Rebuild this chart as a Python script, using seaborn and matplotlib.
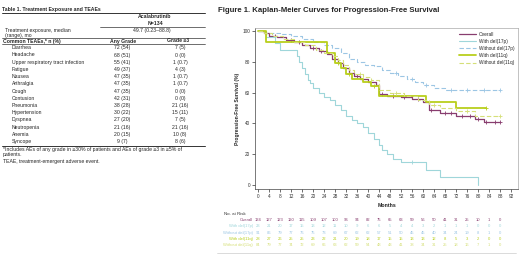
import numpy as np
import pandas as pd
import matplotlib
matplotlib.use("Agg")
import matplotlib.pyplot as plt
import matplotlib.transforms as mtransforms
from matplotlib.lines import Line2D
import seaborn as sns

# ---- Table 1 data ----
exposure_text = "49.7 (0.23\u201388.8)"
ae_names = ["Diarrhea", "Headache", "Upper respiratory tract infection", "Fatigue",
            "Nausea", "Arthralgia", "Cough", "Contusion", "Pneumonia",
            "Hypertension", "Dyspnea", "Neutropenia", "Anemia", "Syncope"]
any_n = [72, 68, 55, 49, 47, 47, 47, 42, 38, 30, 27, 21, 20, 9]
any_pct = [54, 51, 41, 37, 35, 35, 35, 31, 28, 22, 20, 16, 15, 7]
g3_n = [7, 0, 1, 4, 1, 1, 0, 0, 21, 15, 7, 21, 10, 8]
g3_pct = [5, 0, 0.7, 3, 0.7, 0.7, 0, 0, 16, 11, 5, 16, 8, 6]

# ---- Kaplan-Meier data (months, PFS %) ----
overall_t = [0, 2, 4, 7, 10, 13, 16, 19, 22, 25, 27, 29, 31, 33, 35, 37, 40, 43, 44, 47, 52, 56, 60, 62, 66, 72, 79, 82, 88]
overall_s = [100, 99, 97, 96, 94, 93, 91, 89, 87, 85, 82, 79, 76, 73, 71, 69, 67, 65, 59, 58, 57, 56, 54, 49, 47, 45, 43, 41, 41]
overall_cens = [3, 6, 12, 15, 20, 23, 28, 36, 45, 49, 53, 58, 63, 68, 70, 74, 77, 80, 83, 86, 88]

d17_t = [0, 3, 6, 8, 14, 15, 16, 17, 18, 19, 20, 22, 24, 26, 28, 30, 32, 34, 36, 38, 40, 42, 44, 45, 47, 49, 52, 61, 66, 80]
d17_s = [100, 96, 92, 88, 84, 80, 76, 72, 68, 66, 63, 60, 57, 55, 52, 49, 45, 42, 40, 38, 34, 30, 26, 23, 20, 17, 15, 10, 5, 0]
d17_cens = [56]

w17_t = [0, 3, 8, 12, 16, 20, 24, 27, 30, 33, 36, 39, 42, 45, 48, 51, 54, 57, 60, 64, 68, 88]
w17_s = [100, 99, 98, 97, 95, 93, 91, 89, 86, 82, 80, 78, 77, 75, 73, 71, 69, 67, 65, 63, 62, 62]
w17_cens = [50, 56, 61, 70, 76, 82, 88]

d11_t = [0, 3, 25, 28, 30, 32, 34, 38, 41, 44, 61, 72, 83]
d11_s = [100, 93, 86, 79, 76, 72, 69, 67, 64, 58, 54, 50, 50]
d11_cens = [29, 33, 42, 83]

w11_t = [0, 2, 5, 9, 13, 17, 21, 24, 27, 29, 31, 33, 35, 38, 41, 44, 48, 53, 58, 62, 66, 72, 79, 88]
w11_s = [100, 99, 97, 95, 93, 91, 88, 86, 84, 81, 78, 75, 72, 70, 68, 62, 60, 58, 55, 52, 50, 48, 45, 45]
w11_cens = [37, 50, 64, 76, 88]

# ---- Number at risk ----
risk_times = list(range(0, 92, 4))
risk_overall = [134, 127, 123, 120, 115, 109, 107, 100, 96, 94, 82, 75, 65, 63, 59, 56, 50, 41, 31, 25, 10, 1, 0]
risk_d17 = [23, 21, 20, 17, 15, 13, 12, 11, 10, 9, 6, 6, 5, 4, 4, 3, 2, 1, 1, 1, 0, 0, 0]
risk_w17 = [91, 86, 79, 77, 76, 75, 73, 69, 67, 62, 62, 57, 51, 50, 45, 45, 40, 34, 24, 19, 8, 1, 0]
risk_d11 = [28, 27, 26, 25, 25, 23, 22, 21, 20, 19, 18, 17, 15, 15, 13, 13, 12, 8, 5, 3, 2, 0, 0]
risk_w11 = [84, 79, 77, 74, 72, 69, 66, 63, 62, 59, 54, 48, 43, 41, 38, 34, 31, 25, 18, 16, 7, 1, 0]

c_overall = "#883d6f"
c_d17 = "#9fd6da"
c_w17 = "#9cc6e4"
c_d11 = "#b9cf1c"
c_w11 = "#d5df78"

sns.set_style("ticks")
plt.rcParams["font.family"] = ["Liberation Sans", "DejaVu Sans"]

W, H = 520, 256
fig = plt.figure(figsize=(W / 100, H / 100), dpi=100)


def fx(x):
    return x / W


def fy(y):
    return 1 - y / H


def hline(x0, x1, y, lw=0.6, color="#333333"):
    fig.add_artist(Line2D([fx(x0), fx(x1)], [fy(y), fy(y)], transform=fig.transFigure,
                          color=color, lw=lw))


# ---------------- Table ----------------
fs = 3.7
fig.text(fx(2), fy(10), "Table 1. Treatment Exposure and TEAEs", fontsize=fs, fontweight="bold",
         va="center", ha="left")
hline(2, 205, 13, lw=0.7)
fig.text(fx(155), fy(17), "Acalabrutinib", fontsize=fs, fontweight="bold", ha="center", va="center")
fig.text(fx(155), fy(23.5), "N=134", fontsize=fs, fontweight="bold", ha="center", va="center")
hline(100, 205, 27, lw=0.5)
fig.text(fx(5), fy(30.5), "Treatment exposure, median", fontsize=fs, va="center")
fig.text(fx(5), fy(35), "(range), mo", fontsize=fs, va="center")
fig.text(fx(152), fy(30.5), exposure_text, fontsize=fs, ha="center", va="center")
hline(2, 205, 38, lw=0.5)
fig.text(fx(3), fy(41), "Common TEAEs,* n (%)", fontsize=fs, fontweight="bold", va="center")
fig.text(fx(123), fy(41), "Any Grade", fontsize=fs, fontweight="bold", ha="center", va="center")
fig.text(fx(178), fy(41), "Grade \u22653", fontsize=fs, fontweight="bold", ha="center", va="center")
hline(2, 205, 44, lw=0.5)
for i, name in enumerate(ae_names):
    yy = 47.8 + i * 7.2
    fig.text(fx(12), fy(yy), name, fontsize=fs, va="center")
    fig.text(fx(122), fy(yy), f"{any_n[i]} ({any_pct[i]:g})", fontsize=fs, ha="center", va="center")
    fig.text(fx(180), fy(yy), f"{g3_n[i]} ({g3_pct[i]:g})", fontsize=fs, ha="center", va="center")
hline(2, 205, 145.5, lw=0.7)
fig.text(fx(3), fy(149.5), "*Includes AEs of any grade in \u226530% of patients and AEs of grade \u22653 in \u22655% of",
         fontsize=fs, va="center")
fig.text(fx(3), fy(154.5), "patients.", fontsize=fs, va="center")
fig.text(fx(3), fy(161), "TEAE, treatment-emergent adverse event.", fontsize=fs, va="center")

# ---------------- KM plot ----------------
fig.text(fx(218), fy(10), "Figure 1. Kaplan-Meier Curves for Progression-Free Survival",
         fontsize=5.6, fontweight="bold", va="center", ha="left")

ax = fig.add_axes([fx(255), fy(189), fx(518) - fx(255), (189 - 28) / H])

curves = [
    ("Overall", overall_t, overall_s, overall_cens, c_overall, "-", 0.9),
    ("With del(17p)", d17_t, d17_s, d17_cens, c_d17, "-", 0.8),
    ("Without del(17p)", w17_t, w17_s, w17_cens, c_w17, (0, (4, 2)), 0.8),
    ("With del(11q)", d11_t, d11_s, d11_cens, c_d11, "-", 1.3),
    ("Without del(11q)", w11_t, w11_s, w11_cens, c_w11, (0, (4, 2)), 0.8),
]
for name, t, s, cens, color, ls, lw in curves:
    df = pd.DataFrame({"Months": t, "PFS": s})
    sns.lineplot(data=df, x="Months", y="PFS", drawstyle="steps-post", color=color,
                 linestyle=ls, linewidth=lw, label=name, ax=ax, estimator=None, sort=False)
    idx = np.searchsorted(np.array(t), np.array(cens), side="right") - 1
    ax.plot(cens, np.array(s)[idx], "+", color=color, ms=3, mew=0.6)

ax.set_xlim(-1.1, 94.5)
ax.set_ylim(-2.6, 102)
ax.set_xticks(range(0, 96, 4))
ax.set_yticks(range(0, 101, 20))
ax.tick_params(labelsize=3.4, length=2, width=0.5, pad=1.5, colors="#333333")
ax.set_xlabel("Months", fontsize=3.8, fontweight="bold", labelpad=3)
ax.set_ylabel("Progression-Free Survival (%)", fontsize=3.6, fontweight="bold", labelpad=2)
for side in ["top", "right"]:
    ax.spines[side].set_color("#aaaaaa")
    ax.spines[side].set_linewidth(0.5)
for side in ["left", "bottom"]:
    ax.spines[side].set_color("#444444")
    ax.spines[side].set_linewidth(0.5)

leg = ax.legend(loc="upper right", frameon=False, fontsize=3.4, handlelength=3.5,
                labelspacing=0.45, borderaxespad=0.4, handletextpad=0.6)

# Number at risk table
trans = mtransforms.blended_transform_factory(ax.transData, fig.transFigure)
fig.text(fx(246), fy(214), "No. at Risk", fontsize=3.2, ha="right", va="center", color="#333333")
risk_rows = [
    ("Overall", risk_overall, c_overall),
    ("With del(17p)", risk_d17, c_d17),
    ("Without del(17p)", risk_w17, c_w17),
    ("With del(11q)", risk_d11, c_d11),
    ("Without del(11q)", risk_w11, c_w11),
]
for j, (name, vals, color) in enumerate(risk_rows):
    yy = 220 + j * 6.3
    fig.text(fx(253), fy(yy), name, fontsize=3.0, ha="right", va="center", color=color)
    for tt, v in zip(risk_times, vals):
        ax.text(tt, fy(yy), str(v), transform=trans, fontsize=3.0, ha="center", va="center", color=color)

hline(217, 516, 253, lw=0.5, color="#cccccc")

fig.savefig("out.png", dpi=100)
